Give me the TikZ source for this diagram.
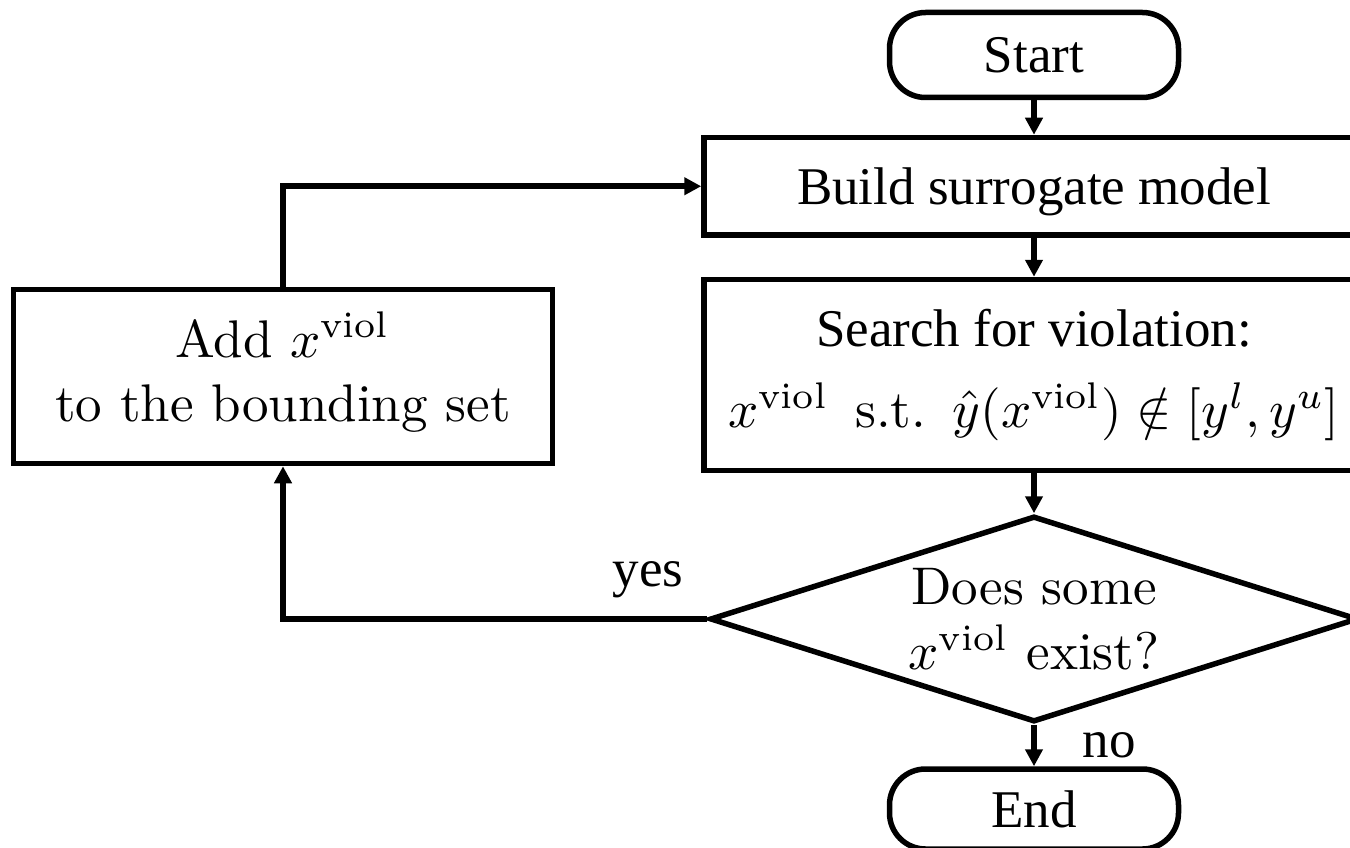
\documentclass[tikz,border=0pt]{standalone}
\usepackage{graphicx}
\usepackage{fontspec}
\newfontfamily\timesfont{Liberation Serif}
\usetikzlibrary{arrows.meta,shapes.geometric}

% serif captions at full size; formulas set at 10pt and enlarged
\newcommand\serifbig{\timesfont\fontsize{53}{64}\selectfont}
\newcommand\cmscaled[1]{\scalebox{5.3}{\rmfamily\fontsize{10}{12.26}\selectfont#1}}

\tikzset{
  stroke/.style={line width=5.5pt},
  term/.style={draw, stroke, rounded corners=36pt, minimum width=289pt,
    minimum height=85pt, inner sep=0pt, font=\serifbig},
  proc/.style={draw, stroke, minimum width=660pt, inner sep=0pt,
    font=\serifbig},
  decision/.style={draw, stroke, diamond, minimum width=648pt,
    minimum height=206pt, inner sep=0pt, aspect=3},
  lab/.style={inner sep=0pt, font=\serifbig},
  flow/.style={stroke, -{Triangle[length=17pt,width=17pt]}},
}

\begin{document}
\begin{tikzpicture}[x=1pt,y=-1pt]
\path[use as bounding box, clip] (0,0) rectangle (1350,848);

% main column
\node[term] (start) at (1034,55) {Start};
\node[proc, minimum height=97.5pt, text depth=0pt] (build) at (1034,186.25)
  {Build surrogate model};
\node[proc, minimum height=191pt, align=center] (search) at (1034,375)
  {Search for violation:\\[17pt]
   \cmscaled{$x^{\mathrm{viol}}$\enskip s.t.\enskip
     $\hat{y}(x^{\mathrm{viol}})\notin[y^l,y^u]$}};
\node[decision] (dec) at (1034,619) {};
\node[inner sep=0pt] (dectext) at (1034,624)
  {\cmscaled{\begin{tabular}{@{}c@{}}Does some\\$x^{\mathrm{viol}}$ exist?\end{tabular}}};
\node[term, minimum height=80pt] (end) at (1034,809) {End};

% update step on the left
\node[proc, minimum width=539pt, minimum height=174pt] (add) at (283,376.5)
  {\cmscaled{\begin{tabular}{@{}c@{}}Add $x^{\mathrm{viol}}$\\to the bounding set\end{tabular}}};

% connectors
\draw[flow] (start.south) -- (build.north);
\draw[flow] (build.south) -- (search.north);
\draw[flow] (search.south) -- (dec.north);
\draw[flow] (dec.south) -- node[lab, anchor=west, xshift=46pt] (no) {no} (end.north);
\draw[flow] (dec.west) -| node[lab, pos=0, anchor=south east, xshift=-21pt,
  yshift=18pt] (yes) {yes} (add.south);
\draw[flow] (add.north) |- (build.west);
\end{tikzpicture}
\end{document}
